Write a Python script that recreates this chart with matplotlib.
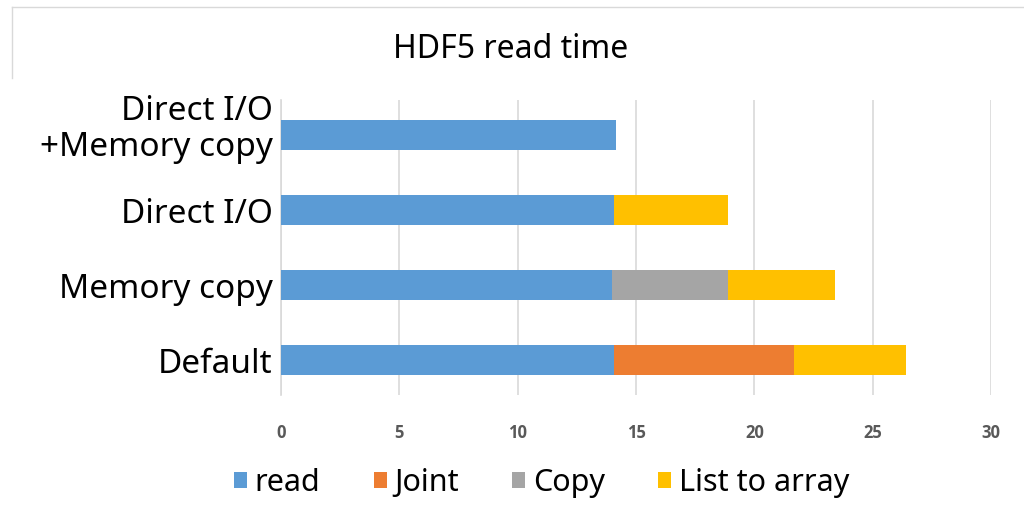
import matplotlib.pyplot as plt
from matplotlib.patches import Patch
from matplotlib.lines import Line2D

categories = ["Default", "Memory copy", "Direct I/O", "Direct I/O\n+Memory copy"]
read = [14.07, 13.98, 14.07, 14.15]
joint = [7.60, 0.0, 0.0, 0.0]
copy = [0.0, 4.91, 0.0, 0.0]
list_to_array = [4.73, 4.51, 4.82, 0.0]
x_ticks = [0, 5, 10, 15, 20, 25, 30]

series = [("read", read, "#5B9BD5"),
          ("Joint", joint, "#ED7D31"),
          ("Copy", copy, "#A5A5A5"),
          ("List to array", list_to_array, "#FFC000")]

font = ["Noto Sans", "DejaVu Sans"]
plt.rcParams["font.family"] = font

fig = plt.figure(figsize=(10.24, 5.19), dpi=100)
ax = fig.add_axes([0.2744, 0.2389, 0.6934, 0.5684])

ypos = list(range(len(categories)))
left = [0.0] * len(categories)
for name, vals, color in series:
    ax.barh(ypos, vals, left=left, height=0.4, color=color, label=name, zorder=3)
    left = [a + b for a, b in zip(left, vals)]

ax.set_xlim(0, 30)
ax.set_ylim(-0.46, 3.47)
ax.set_xticks(x_ticks)
ax.set_xticklabels([str(t) for t in x_ticks], fontsize=12, fontweight="bold",
                   color="#595959", family=["Open Sans", "DejaVu Sans"])
ax.set_yticks(ypos)
ax.set_yticklabels([])
ax.tick_params(axis="x", length=0, pad=21)
ax.tick_params(axis="y", length=0)

# category labels; the two-line one sits a little above its bar
for y, cat in zip(ypos, categories):
    dy = 4 if "\n" in cat else -3
    ax.annotate(cat, xy=(0, y), xycoords=ax.get_yaxis_transform(),
                xytext=(-6, dy), textcoords="offset points",
                ha="right", va="center", fontsize=24, color="black",
                linespacing=1.12)

ax.xaxis.grid(True, color="#D9D9D9", linewidth=1.2, zorder=0)
for side in ["top", "right", "bottom"]:
    ax.spines[side].set_visible(False)
ax.spines["left"].set_color("#D9D9D9")
ax.spines["left"].set_linewidth(1.2)

fig.text(0.499, 0.905, "HDF5 read time", ha="center", va="center", fontsize=23, color="black")

handles = [Patch(facecolor=c, edgecolor="none") for _, _, c in series]
labels = [n for n, _, _ in series]
fig.legend(handles, labels, loc="center", bbox_to_anchor=(0.529, 0.07), ncol=4,
           frameon=False, fontsize=22, handlelength=0.42, handleheight=0.42,
           handletextpad=0.25, columnspacing=1.75)

# chart frame
fig.add_artist(Line2D([0.012, 1.0], [0.986, 0.986], color="#D9D9D9", linewidth=1.0))
fig.add_artist(Line2D([0.012, 0.012], [0.986, 0.85], color="#D9D9D9", linewidth=1.0))

fig.savefig("out.png", dpi=100)
